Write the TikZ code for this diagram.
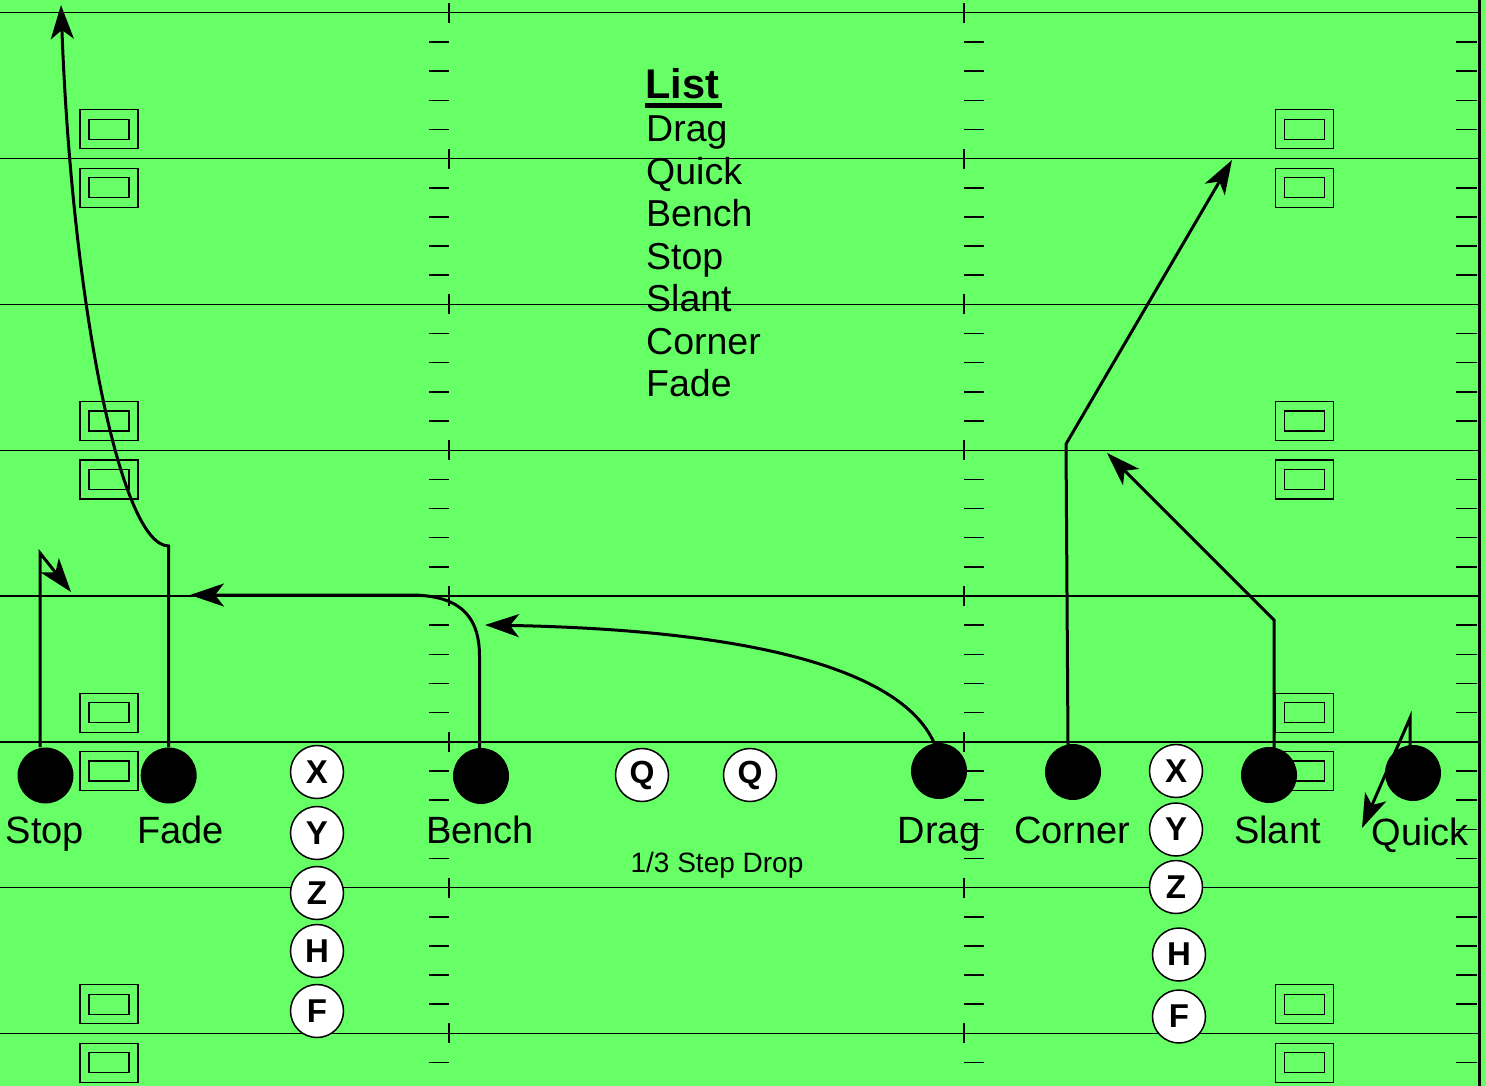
\documentclass[tikz,border=0pt]{standalone}
\usepackage{fontspec}
\setmainfont{Liberation Sans}
\usetikzlibrary{arrows.meta}
\definecolor{field}{RGB}{102,255,102}
\tikzset{
  yard/.style={line width=1.4pt},
  hashm/.style={line width=1.5pt},
  numbox/.style={line width=1.2pt},
  route/.style={line width=3pt},
  tip/.style={-{Stealth[length=34pt,width=23pt,inset=9pt]}},
  player/.style={circle,fill=black,minimum size=56pt,inner sep=0pt},
  letter/.style={circle,draw=black,line width=1.5pt,fill=white,minimum size=53pt,inner sep=0pt,font=\fontsize{33}{38}\selectfont\bfseries},
  plabel/.style={anchor=base,font=\fontsize{38}{45}\selectfont},
  listitem/.style={anchor=base west,inner sep=0pt,font=\fontsize{37.5}{45}\selectfont}
}
\begin{document}
\begin{tikzpicture}[x=1pt,y=-1pt]
\useasboundingbox (0,0) rectangle (1486,1086);
\fill[field] (0,0) rectangle (1486,1086);
% yard lines, hash marks, boxes
\foreach \i in {0,...,7}{
  \pgfmathsetmacro{\yl}{12.8+145.8*\i}
  \draw[yard] (0,\yl) -- (1479,\yl);
  \draw[hashm] (449,\yl-10) -- (449,\yl+10);
  \draw[hashm] (964,\yl-10) -- (964,\yl+10);
  \foreach \k in {1,...,4}{
    \pgfmathsetmacro{\yh}{\yl+29.16*\k}
    \pgfmathparse{\yh<1086 ? 1 : 0}
    \ifnum\pgfmathresult=1
      \draw[hashm] (429,\yh) -- (449,\yh);
      \draw[hashm] (964,\yh) -- (984,\yh);
      \draw[hashm] (1456,\yh) -- (1477,\yh);
    \fi
  }
}
\draw[line width=3.3pt] (1479.5,0) -- (1479.5,1086);
\foreach \yl in {158.6,450.2,741.8,1033.4}{
  \foreach \dy in {-29.2,29.2}{
    \foreach \xc in {109,1304.5}{
      \draw[numbox] (\xc-29,\yl+\dy-19.5) rectangle (\xc+29,\yl+\dy+19.5);
      \draw[numbox] (\xc-20,\yl+\dy-10) rectangle (\xc+20,\yl+\dy+10);
    }
  }
}
% list
\node[listitem,font=\fontsize{41.5}{48}\selectfont\bfseries] (list) at (645,99) {List};
\fill (645,103.3) rectangle (721.7,108.3);
\node[listitem] (l1) at (646,141.7) {Drag};
\node[listitem] (l2) at (646,184.2) {Quick};
\node[listitem] (l3) at (646,226.7) {Bench};
\node[listitem] (l4) at (646,269.2) {Stop};
\node[listitem] (l5) at (646,311.7) {Slant};
\node[listitem] (l6) at (646,354.2) {Corner};
\node[listitem] (l7) at (646,396.7) {Fade};
% route end points
\coordinate (stopbase) at (40,747);
\coordinate (stopturn) at (40,553);
\coordinate (stopend) at (71,592);
\coordinate (fadeturn) at (168.7,546);
\coordinate (fadeend) at (61,5);
\coordinate (benchturn) at (479.5,656);
\coordinate (benchcurve) at (410,595);
\coordinate (benchend) at (190,595);
\coordinate (dragbase) at (935,745);
\coordinate (dragend) at (485,625);
\coordinate (cornerbase) at (1068,745);
\coordinate (cornerturn) at (1066,444);
\coordinate (cornerend) at (1232,160);
\coordinate (slantbase) at (1274,750);
\coordinate (slantturn) at (1274,620);
\coordinate (slantend) at (1107,453);
\coordinate (quickbase) at (1410,746);
\coordinate (quickturn) at (1410,718);
\coordinate (quickend) at (1362,828);
% players
\node[player] (stop) at (45.5,775.5) {};
\node[player] (fade) at (168.7,775.5) {};
\node[player] (bench) at (481,776) {};
\node[player] (drag) at (939,771) {};
\node[player] (corner) at (1073,772) {};
\node[player] (slant) at (1269,775) {};
\node[player] (quick) at (1413,773) {};
% routes
\draw[route,tip] (stopbase) -- (stopturn) -- (stopend);
\draw[route,tip] (fade.north) -- (fadeturn) .. controls (120,546) and (72,300) .. (fadeend);
\draw[route,tip] (bench.north -| benchturn) -- (benchturn) .. controls (479.5,612) and (455,595) .. (benchcurve) -- (benchend);
\draw[route,tip] (dragbase) .. controls (905,672) and (760,630) .. (dragend);
\draw[route,tip] (cornerbase) -- (cornerturn) -- (cornerend);
\draw[route,tip] (slantbase) -- (slantturn) -- (slantend);
\draw[route,tip] (quickbase) -- (quickturn) -- (quickend);
% player labels
\node[plabel] (tstop) at (45,843) {Stop};
\node[plabel] (tfade) at (180.5,843) {Fade};
\node[plabel] (tbench) at (480,843) {Bench};
\node[plabel] (tdrag) at (939,843) {Drag};
\node[plabel] (tcorner) at (1072.5,843) {Corner};
\node[plabel] (tslant) at (1277.5,843) {Slant};
\node[plabel] (tquick) at (1420,845) {Quick};
% letters
\node[letter] (lx) at (317,772) {X};
\node[letter] (ly) at (317,833) {Y};
\node[letter] (lz) at (317,893) {Z};
\node[letter] (lh) at (317,951) {H};
\node[letter] (lf) at (317,1011) {F};
\node[letter] (rx) at (1176,771) {X};
\node[letter] (ry) at (1176,829.5) {Y};
\node[letter] (rz) at (1176,887) {Z};
\node[letter] (rh) at (1179,954.5) {H};
\node[letter] (rf) at (1179,1016.5) {F};
\node[letter,font=\fontsize{32}{38}\selectfont\bfseries] (q1) at (642,775) {Q};
\node[letter,font=\fontsize{32}{38}\selectfont\bfseries] (q2) at (750,775) {Q};
\node[anchor=base,font=\fontsize{28}{33}\selectfont] (drop) at (717,872) {1/3 Step Drop};
\end{tikzpicture}
\end{document}
